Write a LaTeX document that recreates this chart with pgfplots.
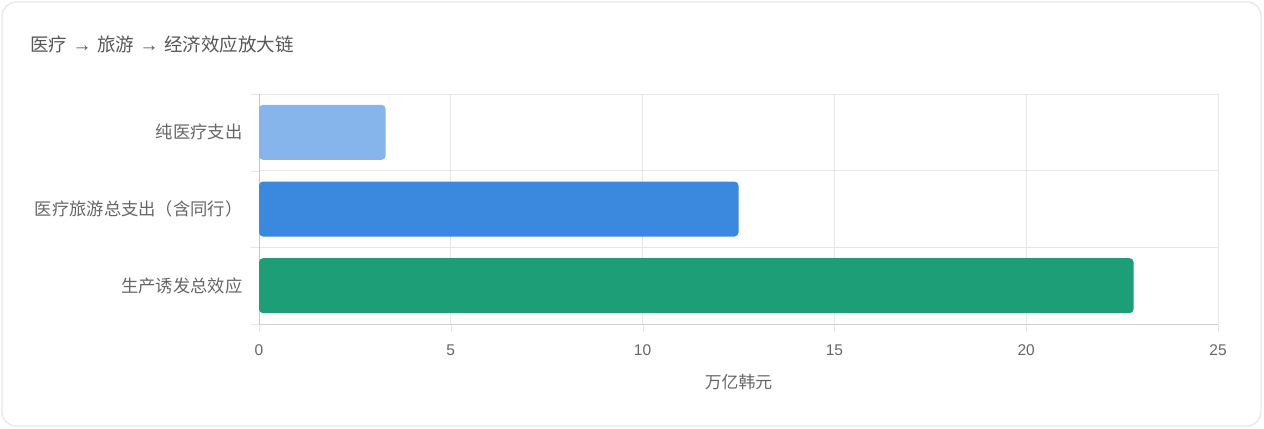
\documentclass[border=0pt]{standalone}
\usepackage{fontspec}
\setmainfont{Liberation Sans}
\newfontfamily\cjk{Noto Sans CJK SC}
\usepackage{pgfplots}
\pgfplotsset{compat=1.18}
\definecolor{barA}{HTML}{86B5EB}
\definecolor{barB}{HTML}{3A89DF}
\definecolor{barC}{HTML}{1E9E77}
\definecolor{txt}{HTML}{666666}
\definecolor{gridc}{HTML}{E6E6E6}
\newcommand{\arr}{\hspace{5.5bp}{\fontsize{19bp}{20bp}\selectfont\rmfamily →}\hspace{5.5bp}}
\begin{document}
\begin{tikzpicture}
\path[use as bounding box] (0,0) rectangle (1264bp,429bp);
\draw[draw=gridc, line width=1.2bp, rounded corners=14bp] (2bp,3bp) rectangle (1261bp,427bp);
\node[anchor=base west, text=txt!85!black, font=\fontsize{18.5bp}{20bp}\selectfont\cjk, inner sep=0pt] at (30bp,377bp) {医疗\arr 旅游\arr 经济效应放大链};
\begin{axis}[
  at={(259bp,105bp)}, anchor=south west,
  scale only axis, width=959bp, height=230bp,
  xbar, bar width=55bp, bar shift=0pt,
  xmin=0, xmax=25, ymin=-0.5, ymax=2.5,
  y dir=reverse,
  axis lines*=left,
  x axis line style={draw=gridc!80!gray, -},
  y axis line style={draw=gridc!70!gray, -},
  xtick={0,5,10,15,20,25},
  ytick={0,1,2},
  yticklabels={纯医疗支出,医疗旅游总支出（含同行）,生产诱发总效应},
  minor ytick={-0.5,0.5,1.5,2.5},
  tick align=outside,
  major tick length=8bp,
  minor tick length=9bp,
  y tick style={draw=none},
  minor y tick style={draw=gridc},
  x tick style={draw=gridc},
  xmajorgrids, yminorgrids,
  grid style={draw=gridc, line width=0.8bp},
  minor grid style={draw=gridc, line width=0.8bp},
  ticklabel style={text=txt, font=\fontsize{15.5bp}{17bp}\selectfont},
  yticklabel style={font=\fontsize{17.3bp}{19bp}\selectfont\cjk, xshift=-5bp},
  xticklabel style={yshift=-9bp},
  /pgf/number format/assume math mode=true,
  xlabel={万亿韩元},
  xlabel style={text=txt, font=\fontsize{16.8bp}{18bp}\selectfont\cjk, yshift=-12bp},
]
\addplot[fill=barA, draw=none, rounded corners=4bp] coordinates {(3.3,0)};
\addplot[fill=barB, draw=none, rounded corners=4bp] coordinates {(12.5,1)};
\addplot[fill=barC, draw=none, rounded corners=4bp] coordinates {(22.8,2)};
\end{axis}
\end{tikzpicture}
\end{document}
